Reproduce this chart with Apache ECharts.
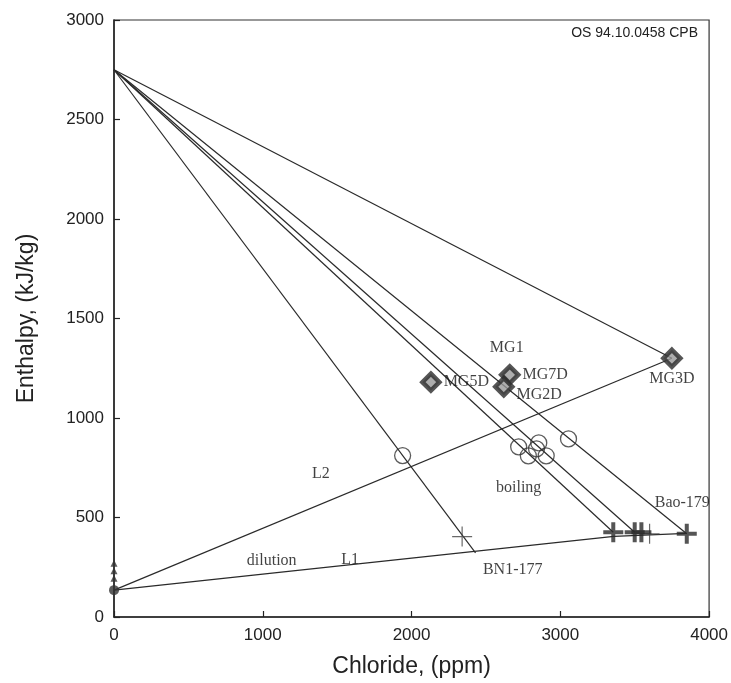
<!DOCTYPE html>
<html>
<head>
<meta charset="utf-8">
<script src="https://cdn.jsdelivr.net/npm/echarts@6/dist/echarts.min.js"></script>
<style>html,body{margin:0;padding:0;background:#fff}#c{width:731px;height:683px}</style>
</head>
<body>
<div id="c"></div>
<script>
// ---- data ----
const xTicks = [0, 1000, 2000, 3000, 4000];
const yTicks = [0, 500, 1000, 1500, 2000, 2500, 3000];
const steamPoint = [0, 2750];
const dilutionPoint = [0, 135];
const steamLineEnds = [[3750, 1300], [3356, 426], [3500, 426], [3850, 418], [2430, 322]];
const lineL2 = [[0, 135], [3750, 1300]];
const lineL1 = [[0, 135], [3360, 405], [3850, 420]];
const diamonds = [[3750, 1300, 'MG3D'], [2130, 1180, 'MG5D'], [2660, 1217, 'MG7D'], [2620, 1157, 'MG2D']];
const circles = [[1940, 811], [2720, 855], [2785, 810], [2855, 875], [2840, 845], [2905, 810], [3055, 895]];
const thinCrosses = [[2340, 404], [3600, 418]];
const thickCrosses = [[3356, 426], [3500, 426], [3545, 426], [3850, 418]];
const triangles = [[0, 195], [0, 232], [0, 270]];
const notes = [[2640, 1351, 'MG1'], [2720, 650, 'boiling'], [3820, 574, 'Bao-179'], [2680, 237, 'BN1-177'],
               [1390, 720, 'L2'], [1587, 287, 'L1'], [1060, 282, 'dilution']];

const lineStyle = {color: '#2a2a2a', width: 1.2};
const series = [];
steamLineEnds.forEach(e => {
  series.push({type: 'line', data: [steamPoint, e], symbol: 'none', lineStyle, silent: true, z: 1});
});
series.push({type: 'line', data: lineL2, symbol: 'none', lineStyle, z: 1});
series.push({type: 'line', data: lineL1, symbol: 'none', lineStyle, z: 1});

const serif = 'Liberation Serif';
series.push({
  type: 'scatter', data: circles, symbol: 'circle', symbolSize: 16, clip: false,
  itemStyle: {color: 'rgba(0,0,0,0)', borderColor: '#333', borderWidth: 1.3}, z: 3
});
series.push({
  type: 'scatter', data: thinCrosses, clip: false,
  symbol: 'path://M9.4,0h1.2v9.4h9.4v1.2h-9.4v9.4h-1.2v-9.4h-9.4v-1.2h9.4z', symbolSize: 20,
  itemStyle: {color: '#444'}, z: 4
});
series.push({
  type: 'scatter', data: thickCrosses, clip: false,
  symbol: 'path://M8,0h4v8h8v4h-8v8h-4v-8h-8v-4h8z', symbolSize: 20,
  itemStyle: {color: '#2a2a2a'}, z: 4
});
series.push({
  type: 'scatter', clip: false,
  data: diamonds.map(d => {
    let pos = 'right', off = [0, 0];
    if (d[2] === 'MG3D') { pos = 'bottom'; off = [0, 0]; }
    if (d[2] === 'MG2D') { off = [0, 8]; }
    return {value: [d[0], d[1]], name: d[2], label: {position: pos, offset: off}};
  }),
  symbol: 'diamond', symbolSize: 17,
  itemStyle: {color: '#999', borderColor: '#2a2a2a', borderWidth: 4.5},
  label: {show: true, formatter: p => p.name, fontFamily: serif, fontSize: 16, color: '#111', distance: 2},
  z: 5
});
series.push({
  type: 'scatter', data: triangles, symbol: 'triangle', symbolSize: 7, clip: false,
  itemStyle: {color: '#333'}, z: 5
});
series.push({
  type: 'scatter', data: [dilutionPoint], symbol: 'circle', symbolSize: 10, clip: false,
  itemStyle: {color: '#333'}, z: 5
});
series.push({
  type: 'scatter', symbolSize: 0, silent: true,
  data: notes.map(n => ({value: [n[0], n[1]], name: n[2]})),
  label: {show: true, position: 'inside', formatter: p => p.name, fontFamily: serif, fontSize: 16, color: '#111'},
  z: 6
});

const chart = echarts.init(document.getElementById('c'));
chart.setOption({
  animation: false,
  backgroundColor: '#fff',
  grid: {left: 114, right: 20, top: 20, bottom: 59, show: true, borderColor: '#333', borderWidth: 1.2},
  title: {
    text: 'OS 94.10.0458 CPB', right: 28, top: 21,
    textStyle: {fontFamily: 'Liberation Sans', fontSize: 14, fontWeight: 'normal', color: '#222'}
  },
  xAxis: {
    type: 'value', min: 0, max: 4000, interval: 1000,
    name: 'Chloride, (ppm)', nameLocation: 'middle', nameGap: 38,
    nameTextStyle: {fontFamily: 'Liberation Sans', fontSize: 23, color: '#222'},
    axisLine: {lineStyle: {color: '#222', width: 1.5}},
    axisTick: {inside: true, length: 6, lineStyle: {color: '#222', width: 1.2}},
    axisLabel: {fontFamily: 'Liberation Sans', fontSize: 17, color: '#222', margin: 10,
      formatter: v => xTicks.includes(v) ? String(v) : ''},
    splitLine: {show: false}
  },
  yAxis: {
    type: 'value', min: 0, max: 3000, interval: 500,
    name: 'Enthalpy, (kJ/kg)', nameLocation: 'middle', nameGap: 76, nameRotate: 90,
    nameTextStyle: {fontFamily: 'Liberation Sans', fontSize: 23, color: '#222'},
    axisLine: {lineStyle: {color: '#222', width: 1.5}},
    axisTick: {inside: true, length: 6, lineStyle: {color: '#222', width: 1.2}},
    axisLabel: {fontFamily: 'Liberation Sans', fontSize: 17, color: '#222', margin: 10,
      formatter: v => yTicks.includes(v) ? String(v) : ''},
    splitLine: {show: false}
  },
  series
});
</script>
</body>
</html>
